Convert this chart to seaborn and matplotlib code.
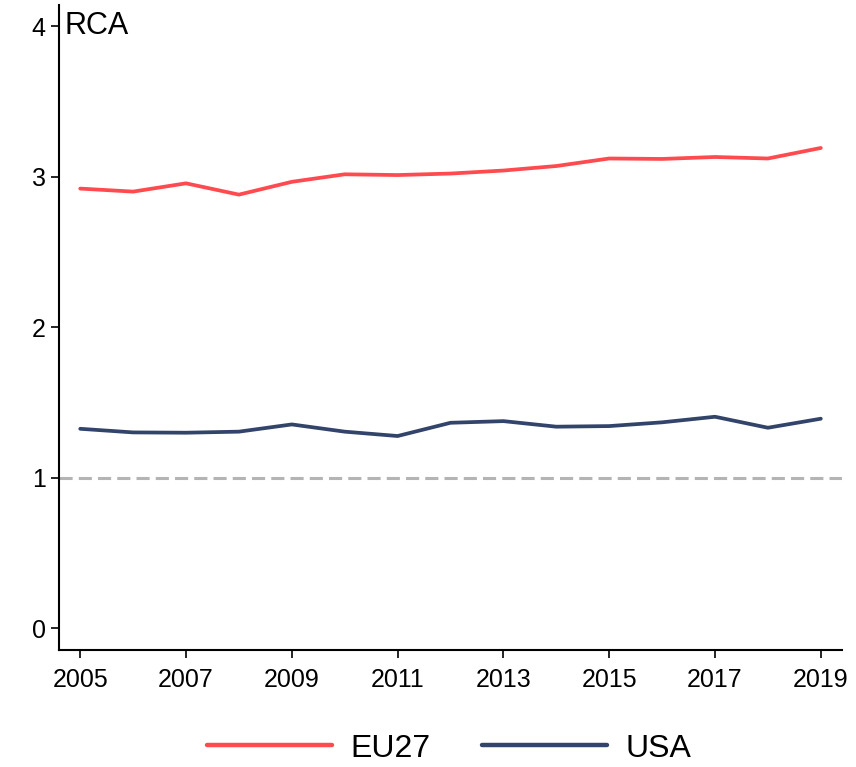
import matplotlib
matplotlib.use("Agg")
import matplotlib.pyplot as plt
from matplotlib import font_manager
import numpy as np
import pandas as pd
import seaborn as sns

# data
years = list(range(2005, 2020))
eu27 = [2.92, 2.90, 2.955, 2.88, 2.965, 3.015, 3.01, 3.02, 3.04, 3.07,
        3.12, 3.117, 3.13, 3.12, 3.19]
usa = [1.324, 1.30, 1.298, 1.305, 1.353, 1.305, 1.276, 1.364, 1.375, 1.338,
       1.342, 1.367, 1.404, 1.331, 1.391]
series_names = ["EU27", "USA"]
colors = ["#ff4b4f", "#33446a"]
y_ticks = [0, 1, 2, 3, 4]
x_ticks = list(range(2005, 2020, 2))

df = pd.DataFrame({
    "year": years * 2,
    "RCA": eu27 + usa,
    "region": [series_names[0]] * len(years) + [series_names[1]] * len(years),
})

sns.set_theme(style="ticks")
names = {f.name for f in font_manager.fontManager.ttflist}
fam = "Liberation Sans Narrow" if "Liberation Sans Narrow" in names else "Liberation Sans"
plt.rcParams["font.family"] = [fam, "DejaVu Sans"]
plt.rcParams["text.color"] = "black"

fig = plt.figure(figsize=(8.56, 7.67), dpi=100)
ax = fig.add_axes([0.069, 0.1525, 0.9146, 0.841])

ax.axhline(1, color="#b4b4b4", lw=2.2, dashes=(4.3, 2.0), zorder=1)

sns.lineplot(data=df, x="year", y="RCA", hue="region", palette=colors,
             linewidth=2.7, ax=ax, legend=False, zorder=3)

ax.set_xlim(2004.6, 2019.4)
ax.set_ylim(-0.146, 4.14)
ax.set_xticks(x_ticks)
ax.set_yticks(y_ticks)
ax.set_xlabel("")
ax.set_ylabel("")
ax.tick_params(axis="both", labelsize=18, length=6, width=1.2, color="black",
               labelcolor="black", direction="out")
ax.tick_params(axis="x", pad=7)
for s in ["top", "right"]:
    ax.spines[s].set_visible(False)
for s in ["left", "bottom"]:
    ax.spines[s].set_color("black")
    ax.spines[s].set_linewidth(1.5)

ax.text(0.007, 0.968, "RCA", transform=ax.transAxes, fontsize=22,
        ha="left", va="center", color="black")

handles = [plt.Line2D([], [], color=c, lw=3.2) for c in colors]
fig.legend(handles, series_names, loc="center", bbox_to_anchor=(0.525, 0.024),
           ncol=2, frameon=False, fontsize=23, handlelength=3.9,
           columnspacing=1.6, handletextpad=0.6, labelcolor="black")

fig.savefig("out.png", dpi=100)
